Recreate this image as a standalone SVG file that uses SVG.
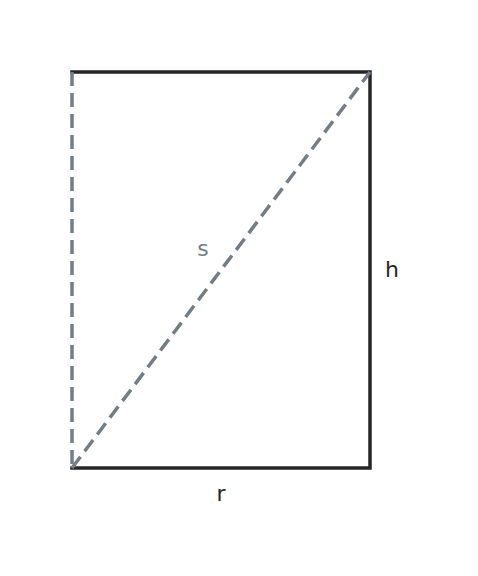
<svg xmlns="http://www.w3.org/2000/svg" width="478" height="576" viewBox="0 0 478 576">
<style>
.solid{stroke:#262626;stroke-width:3.5;fill:none;stroke-linecap:square}
.dash{stroke:#737d84;stroke-width:3.5;fill:none;stroke-dasharray:14 7}
.lbl{font-family:"DejaVu Sans",sans-serif;font-size:22px;text-anchor:middle}
</style>
<rect width="478" height="576" fill="#ffffff"/>
<g id="connectors">
<polyline class="solid" points="72,72 370,72 370,468 72,468"/>
<line class="dash" x1="72" y1="72" x2="72" y2="468"/>
<line class="dash" x1="72" y1="468" x2="370" y2="72"/>
</g>
<g id="label-s"><text class="lbl" x="203" y="256" fill="#737d84">s</text></g>
<g id="label-h"><text class="lbl" x="392" y="277" fill="#262626">h</text></g>
<g id="label-r"><text class="lbl" x="221" y="501" fill="#262626">r</text></g>
</svg>
